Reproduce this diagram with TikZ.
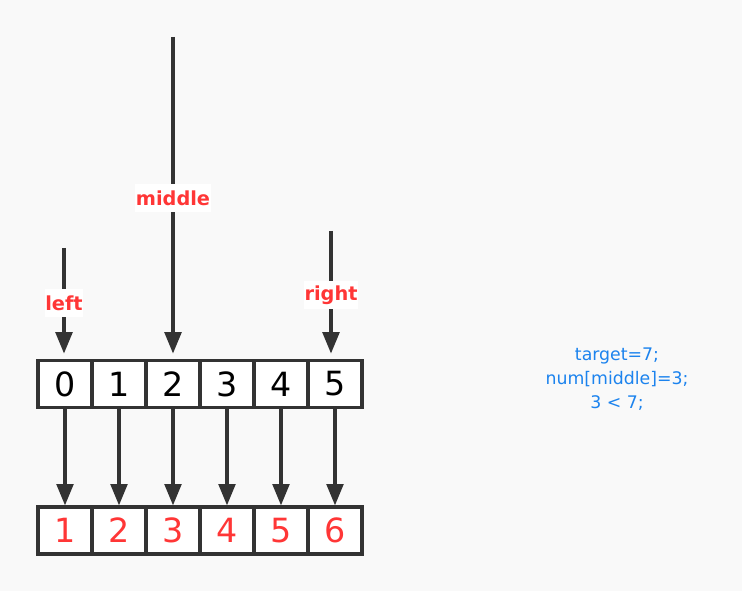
\documentclass[tikz,border=0pt]{standalone}
\usepackage{fontspec}
\setmainfont{DejaVu Sans}
\usetikzlibrary{arrows.meta}
\definecolor{bg}{HTML}{F9F9F9}
\definecolor{dark}{HTML}{333333}
\definecolor{lblred}{HTML}{FF3636}
\definecolor{noteblue}{HTML}{1C83EE}

\begin{document}
\begin{tikzpicture}
        [x=0.75pt,y=-0.75pt,
         cell/.style={draw=dark,fill=white,line width=2.4pt,minimum width=40.5pt,minimum height=35.25pt,inner sep=0,font=\fontsize{25}{25}\selectfont},
         ptr/.style={draw=dark,line width=2.4pt,-{Triangle[length=16pt,width=12.5pt]}},
         lbl/.style={fill=white,text=lblred,inner xsep=0.5pt,inner ysep=0,minimum height=21pt,font=\bfseries\fontsize{14.5}{14.5}\selectfont},
         note/.style={text=noteblue,align=center,font=\fontsize{13}{18}\selectfont}]

        \fill[bg] (0,0) rectangle (742,591);

        % index row
        \node[cell] (a0) at (65,384) {0};
        \node[cell] (a1) at (119,384) {1};
        \node[cell] (a2) at (173,384) {2};
        \node[cell] (a3) at (227,384) {3};
        \node[cell] (a4) at (281,384) {4};
        \node[cell] (a5) at (335,384) {5};

        % value row
        \node[cell,text=lblred] (b0) at (65,530.5) {1};
        \node[cell,text=lblred] (b1) at (119,530.5) {2};
        \node[cell,text=lblred] (b2) at (173,530.5) {3};
        \node[cell,text=lblred] (b3) at (227,530.5) {4};
        \node[cell,text=lblred] (b4) at (281,530.5) {5};
        \node[cell,text=lblred] (b5) at (335,530.5) {6};

        \coordinate (lp) at (64,248);
        \coordinate (mp) at (173,37);
        \coordinate (rp) at (331,231);

        \draw[ptr,shorten >=4pt] (lp) -- (lp |- a0.north) node[lbl,midway] {left};
        \draw[ptr,shorten >=4pt] (mp) -- (mp |- a2.north) node[lbl,midway] {middle};
        \draw[ptr,shorten >=4pt] (rp) -- (rp |- a5.north) node[lbl,midway] {right};

        \draw[ptr] (a0) -- (b0);
        \draw[ptr] (a1) -- (b1);
        \draw[ptr] (a2) -- (b2);
        \draw[ptr] (a3) -- (b3);
        \draw[ptr] (a4) -- (b4);
        \draw[ptr] (a5) -- (b5);

        \node[note] (nt) at (617,379) {target=7;\\num[middle]=3;\\3 < 7;};

      \end{tikzpicture}
\end{document}
